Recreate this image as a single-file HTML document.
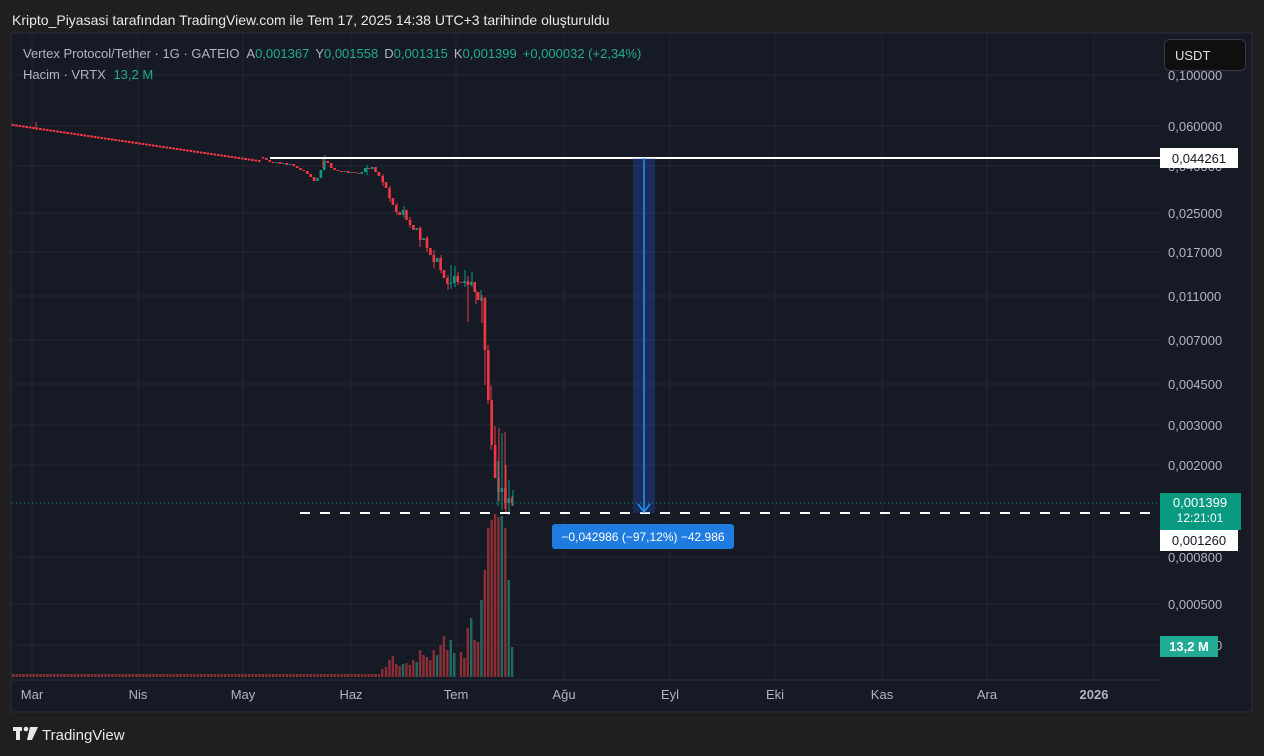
<!DOCTYPE html>
<html><head><meta charset="utf-8"><style>
html,body{margin:0;padding:0;background:#1f1f1f;width:1264px;height:756px;overflow:hidden}
svg text{font-family:"Liberation Sans",sans-serif}
</style></head><body>
<svg width="1264" height="756" xmlns="http://www.w3.org/2000/svg">
<defs>
<pattern id="vp" x="12" y="0" width="3.42" height="10" patternUnits="userSpaceOnUse"><rect x="0" y="0" width="2.4" height="10" fill="#8c2f35"/></pattern>
</defs>
<rect width="1264" height="756" fill="#1f1f1f"/>
<text x="12" y="25" fill="#e8e8e8" font-size="14">Kripto_Piyasasi tarafından TradingView.com ile Tem 17, 2025 14:38 UTC+3 tarihinde oluşturuldu</text>
<rect x="11" y="33" width="1241" height="679" fill="#161a25" stroke="#2a2e39"/>
<g stroke="#232733" stroke-width="1">
<line x1="12" y1="75" x2="1160" y2="75"/><line x1="12" y1="126" x2="1160" y2="126"/><line x1="12" y1="166" x2="1160" y2="166"/><line x1="12" y1="213" x2="1160" y2="213"/><line x1="12" y1="252" x2="1160" y2="252"/><line x1="12" y1="296" x2="1160" y2="296"/><line x1="12" y1="340" x2="1160" y2="340"/><line x1="12" y1="384" x2="1160" y2="384"/><line x1="12" y1="425" x2="1160" y2="425"/><line x1="12" y1="465" x2="1160" y2="465"/><line x1="12" y1="557" x2="1160" y2="557"/><line x1="12" y1="604" x2="1160" y2="604"/><line x1="12" y1="645" x2="1160" y2="645"/>
<line x1="32" y1="34" x2="32" y2="680"/><line x1="138" y1="34" x2="138" y2="680"/><line x1="243" y1="34" x2="243" y2="680"/><line x1="351" y1="34" x2="351" y2="680"/><line x1="456" y1="34" x2="456" y2="680"/><line x1="564" y1="34" x2="564" y2="680"/><line x1="670" y1="34" x2="670" y2="680"/><line x1="775" y1="34" x2="775" y2="680"/><line x1="882" y1="34" x2="882" y2="680"/><line x1="987" y1="34" x2="987" y2="680"/><line x1="1094" y1="34" x2="1094" y2="680"/>
</g>
<!-- volume -->
<rect x="12" y="674" width="368" height="3" fill="url(#vp)"/>
<g fill="#8c2f35">
<rect x="381" y="669" width="2.4" height="8"/><rect x="384.8" y="667" width="2.4" height="10"/><rect x="388.2" y="660" width="2.4" height="17"/><rect x="391.6" y="656" width="2.4" height="21"/><rect x="395" y="664" width="2.4" height="13"/><rect x="398.4" y="666" width="2.4" height="11"/><rect x="405.2" y="663" width="2.4" height="14"/><rect x="408.7" y="665" width="2.4" height="12"/><rect x="412.1" y="660" width="2.4" height="17"/><rect x="418.9" y="650" width="2.4" height="27"/><rect x="422.3" y="655" width="2.4" height="22"/><rect x="425.7" y="657" width="2.4" height="20"/><rect x="429.1" y="660" width="2.4" height="17"/><rect x="432.5" y="650" width="2.4" height="27"/><rect x="439.3" y="645" width="2.4" height="32"/><rect x="442.7" y="636" width="2.4" height="41"/><rect x="446.1" y="650" width="2.4" height="27"/><rect x="459.8" y="652" width="2.4" height="25"/><rect x="463.2" y="658" width="2.4" height="19"/><rect x="466.6" y="628" width="2.4" height="49"/><rect x="473.4" y="640" width="2.4" height="37"/><rect x="476.8" y="642" width="2.4" height="35"/><rect x="483.6" y="570" width="2.4" height="107"/><rect x="487" y="528" width="2.4" height="149"/><rect x="490.4" y="520" width="2.4" height="157"/><rect x="493.8" y="514" width="2.4" height="163"/><rect x="497.2" y="517" width="2.4" height="160"/><rect x="504.1" y="528" width="2.4" height="149"/>
</g>
<g fill="#1f6b63">
<rect x="401.8" y="664" width="2.4" height="13"/><rect x="415.5" y="662" width="2.4" height="15"/><rect x="435.9" y="655" width="2.4" height="22"/><rect x="449.5" y="640" width="2.4" height="37"/><rect x="453" y="653" width="2.4" height="24"/><rect x="470" y="618" width="2.4" height="59"/><rect x="480.2" y="600" width="2.4" height="77"/><rect x="500.6" y="516" width="2.4" height="161"/><rect x="507.5" y="580" width="2.4" height="97"/><rect x="510.9" y="647" width="2.4" height="30"/>
</g>
<!-- candles -->
<path fill="none" stroke="#f23645" stroke-width="2.6" d="M13 124 v2
m3.42 -1.5 v2 m3.42 -1.5 v2 m3.42 -1.5 v2 m3.42 -1.5 v2 m3.42 -1.5 v2 m3.42 -1.5 v2 m3.42 -1.5 v2 m3.42 -1.5 v2
m3.42 -1.5 v2 m3.42 -1.5 v2 m3.42 -1.5 v2 m3.42 -1.5 v2 m3.42 -1.5 v2 m3.42 -1.5 v2 m3.42 -1.5 v2 m3.42 -1.5 v2
m3.42 -1.5 v2 m3.42 -1.5 v2 m3.42 -1.5 v2 m3.42 -1.5 v2 m3.42 -1.5 v2 m3.42 -1.5 v2 m3.42 -1.5 v2 m3.42 -1.5 v2
m3.42 -1.5 v2 m3.42 -1.5 v2 m3.42 -1.5 v2 m3.42 -1.5 v2 m3.42 -1.5 v2 m3.42 -1.5 v2 m3.42 -1.5 v2 m3.42 -1.5 v2
m3.42 -1.5 v2 m3.42 -1.5 v2 m3.42 -1.5 v2 m3.42 -1.5 v2 m3.42 -1.5 v2 m3.42 -1.5 v2 m3.42 -1.5 v2 m3.42 -1.5 v2
m3.42 -1.5 v2 m3.42 -1.5 v2 m3.42 -1.5 v2 m3.42 -1.5 v2 m3.42 -1.5 v2 m3.42 -1.5 v2 m3.42 -1.5 v2 m3.42 -1.5 v2
m3.42 -1.5 v2 m3.42 -1.5 v2 m3.42 -1.5 v2 m3.42 -1.5 v2 m3.42 -1.5 v2 m3.42 -1.5 v2 m3.42 -1.5 v2 m3.42 -1.5 v2
m3.42 -1.5 v2 m3.42 -1.5 v2 m3.42 -1.5 v2 m3.42 -1.5 v2 m3.42 -1.5 v2 m3.42 -1.5 v2 m3.42 -1.5 v2 m3.42 -1.5 v2
m3.42 -1.5 v2 m3.42 -1.5 v2 m3.42 -1.5 v2 m3.42 -1.5 v2 m3.42 -1.5 v2 m3.42 -1.5 v2 m3.42 -1.5 v2 m3.42 -1.5 v2
M263 157 V158.5 M266.4 158 V160 M269.8 160 V162 M273.2 162 V163 M280 162 V164 M286.8 163 V165 M293.7 164 V166 M297.1 166 V168 M300.5 168 V170 M303.9 170 V171 M307.3 171 V174 M310.7 174 V177 M314.1 177 V181 M327.8 161 V163 M331.2 163 V168 M334.6 168 V170 M338 170 V171 M341.4 171 V172 M348.2 171 V173 M355 172 V173 M358.4 173 V174 M368.6 168 V169 M375.5 167 V172 M378.9 172 V176
M382.7 176 V182 M386.1 182 V188 M389.5 188 V198 M392.9 198 V205 M396.3 205 V212 M399.7 212 V215 M406.5 210 V220 M410 220 V225 M413.4 225 V230 M420.2 228 V240 M427 238 V248 M430.4 248 V255 M433.8 255 V262 M440.6 258 V270 M444 270 V278 M447.4 278 V284 M457.7 276 V282 M461.1 282 V283 M467.9 281 V285 M474.7 282 V292 M478.1 292 V300 M484.9 298 V350 M488.3 350 V400 M491.7 400 V445 M495.1 445 V478 M498.5 478 V492 M505.4 488 V503 M512.2 498 V503"/>
<path fill="none" stroke="#089981" stroke-width="2.6" d="M276.6 162 V163 M283.4 163 V164 M290.2 164 V165 M317.5 178 V181 M320.9 170 V178 M324.3 161 V170 M344.8 171 V172 M351.6 172 V173 M361.8 172 V174 M365.2 168 V172 M372.1 167 V169 M403.1 210 V215 M416.8 228 V230 M423.6 238 V240 M437.2 258 V262 M450.8 283 V284 M454.3 276 V283 M464.5 281 V283 M471.3 282 V285 M481.5 298 V300 M501.9 488 V492 M508.8 498 V503"/>
<path fill="none" stroke="#f23645" stroke-width="1" d="M36 122 V130 M323 157 V168 M383 174 V186 M390 186 V202 M397 203 V215 M410 217 V228 M420 226 V247 M427 236 V252 M434 250 V268 M441 255 V273 M448 275 V290 M458 272 V285 M468 276 V322 M476 290 V304 M482 295 V323 M485 297 V385 M488 345 V404 M491 385 V450 M495 426 V475 M499 428 V501 M505 432 V509 M506 465 V512 M512 496 V506"/>
<path fill="none" stroke="#089981" stroke-width="1" d="M325 155 V166 M367 165 V175 M404 206 V218 M451 265 V289 M455 266 V287 M465 270 V287 M472 272 V287 M481 290 V301 M498 461 V506 M502 433 V510 M509 480 V515 M513 490 V506"/>
<line x1="12" y1="503" x2="1160" y2="503" stroke="#089981" stroke-dasharray="1,3"/>
<line x1="270" y1="158" x2="1160" y2="158" stroke="#ffffff" stroke-width="2"/>
<line x1="300" y1="513" x2="1160" y2="513" stroke="#ffffff" stroke-width="2" stroke-dasharray="10,10"/>
<rect x="633" y="158" width="22" height="355" fill="#2962ff" fill-opacity="0.25"/>
<line x1="644" y1="158" x2="644" y2="512" stroke="#2196f3" stroke-width="1.5"/>
<path d="M638 504 L644 512 L650 504" stroke="#2196f3" stroke-width="1.5" fill="none"/>
<rect x="552" y="524" width="182" height="25" rx="3" fill="#1e7be0"/>
<text x="643" y="541" fill="#fff" font-size="12" text-anchor="middle">−0,042986 (−97,12%) −42.986</text>
<g fill="#b2b5be" font-size="13">
<text x="1168" y="80">0,100000</text><text x="1168" y="131">0,060000</text><text x="1168" y="171">0,040000</text><text x="1168" y="218">0,025000</text><text x="1168" y="257">0,017000</text><text x="1168" y="301">0,011000</text><text x="1168" y="345">0,007000</text><text x="1168" y="389">0,004500</text><text x="1168" y="430">0,003000</text><text x="1168" y="470">0,002000</text><text x="1168" y="562">0,000800</text><text x="1168" y="609">0,000500</text><text x="1168" y="650">0,000340</text>
</g>
<rect x="1160" y="148" width="78" height="20" fill="#fff"/>
<text x="1199" y="163" fill="#131722" font-size="13" text-anchor="middle">0,044261</text>
<rect x="1160" y="493" width="81" height="37" fill="#089981"/>
<text x="1200" y="507" fill="#fff" font-size="13" text-anchor="middle">0,001399</text>
<text x="1200" y="522" fill="#fff" font-size="12" text-anchor="middle">12:21:01</text>
<rect x="1160" y="530" width="78" height="21" fill="#fff"/>
<text x="1199" y="545" fill="#131722" font-size="13" text-anchor="middle">0,001260</text>
<rect x="1160" y="636" width="58" height="21" fill="#22ab94"/>
<text x="1189" y="651" fill="#fff" font-size="13" font-weight="bold" text-anchor="middle">13,2 M</text>
<rect x="1164.5" y="39.5" width="81" height="31" rx="5" fill="#0f0f0f" stroke="#363a45"/>
<text x="1175" y="60" fill="#e0e0e0" font-size="13">USDT</text>
<text x="23" y="58" font-size="13" fill="#b2b5be">Vertex Protocol/Tether · 1G · GATEIO <tspan dx="4">A</tspan><tspan fill="#22ab94">0,001367</tspan><tspan dx="6">Y</tspan><tspan fill="#22ab94">0,001558</tspan><tspan dx="6">D</tspan><tspan fill="#22ab94">0,001315</tspan><tspan dx="6">K</tspan><tspan fill="#22ab94">0,001399</tspan><tspan dx="6" fill="#22ab94">+0,000032 (+2,34%)</tspan></text>
<text x="23" y="79" font-size="13" fill="#b2b5be">Hacim · VRTX <tspan dx="4" fill="#22ab94">13,2 M</tspan></text>
<line x1="12" y1="680" x2="1160" y2="680" stroke="#2a2e39"/>
<g fill="#b2b5be" font-size="13" text-anchor="middle">
<text x="32" y="699">Mar</text><text x="138" y="699">Nis</text><text x="243" y="699">May</text><text x="351" y="699">Haz</text><text x="456" y="699">Tem</text><text x="564" y="699">Ağu</text><text x="670" y="699">Eyl</text><text x="775" y="699">Eki</text><text x="882" y="699">Kas</text><text x="987" y="699">Ara</text><text x="1094" y="699" font-weight="bold">2026</text>
</g>
<g fill="#e8e8e8"><rect x="13" y="727" width="9" height="4"/><rect x="16" y="727" width="4" height="13"/><circle cx="26" cy="729" r="2.3"/><path d="M30 727 L38 727 L32 740 L27 740 Z"/></g>
<text x="42" y="740" fill="#e8e8e8" font-size="15">TradingView</text>
</svg>
</body></html>
